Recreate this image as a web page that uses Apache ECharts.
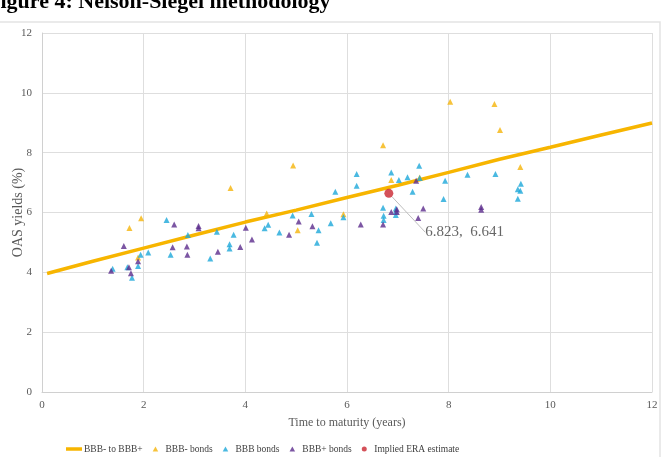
<!DOCTYPE html>
<html>
<head>
<meta charset="utf-8">
<script src="https://cdn.jsdelivr.net/npm/echarts@6/dist/echarts.min.js"></script>
<style>
html, body { margin: 0; padding: 0; background: #fff; }
#chart { width: 670px; height: 457px; }
</style>
</head>
<body>
<div id="chart"></div>
<script>
var xTicks = [0, 2, 4, 6, 8, 10, 12];
var yTicks = [0, 2, 4, 6, 8, 10, 12];

// fitted curve BBB- to BBB+
var curve = [[0.1,3.96],[1,4.37],[2,4.81],[3,5.25],[4,5.68],[5,6.08],[6,6.50],[7,6.91],[8,7.34],[9,7.78],[10,8.18],[11,8.59],[12,8.99]];

// BBB- bonds
var bbbMinus = [[1.72,5.48],[1.95,5.81],[1.89,4.50],[3.71,6.82],[4.42,5.97],[4.94,7.57],[5.03,5.41],[5.93,5.94],[6.71,8.25],[6.87,7.09],[7.43,7.17],[8.03,9.70],[8.90,9.63],[9.01,8.76],[9.41,7.52]];

// BBB bonds
var bbb = [[1.39,4.12],[1.68,4.17],[1.77,3.82],[1.89,4.21],[1.94,4.59],[2.09,4.66],[2.45,5.75],[2.53,4.59],[2.87,5.25],[3.31,4.46],[3.44,5.36],[3.69,4.94],[3.69,4.80],[3.77,5.26],[4.38,5.47],[4.45,5.59],[4.67,5.33],[4.93,5.90],[5.30,5.95],[5.44,5.41],[5.41,4.99],[5.68,5.64],[5.93,5.84],[5.77,6.69],[6.19,7.29],[6.19,6.89],[6.87,7.34],[7.02,7.09],[7.19,7.18],[7.42,7.56],[7.29,6.69],[7.93,7.06],[7.90,6.45],[8.37,7.26],[8.92,7.29],[6.71,6.16],[6.72,5.89],[6.72,5.75],[6.96,6.13],[6.96,6.03],[6.96,5.92],[9.36,6.46],[9.36,6.78],[9.41,6.73],[9.42,6.96],[7.43,7.15]];

// BBB+ bonds
var bbbPlus = [[1.36,4.05],[1.61,4.88],[1.71,4.17],[1.75,3.97],[1.89,4.37],[2.60,5.60],[2.57,4.84],[2.85,4.86],[2.86,4.59],[3.08,5.55],[3.08,5.47],[3.46,4.69],[3.90,4.85],[4.01,5.49],[4.13,5.10],[4.86,5.26],[5.05,5.70],[5.32,5.54],[6.27,5.60],[6.71,5.60],[6.87,6.02],[6.98,6.11],[6.98,6.02],[7.40,5.82],[7.50,6.13],[7.36,7.06],[8.64,6.18],[8.64,6.09]];

// implied ERA estimate
var estimate = [[6.823,6.641]];

var serif = 'Liberation Serif';
var gridColor = '#dedede';
var triIcon = 'path://M0,9L5,0L10,9Z';

var myChart = echarts.init(document.getElementById('chart'));
var option = {
    animation: false,
    textStyle: {fontFamily: serif},
    graphic: [
        {type: 'text', left: -13, top: -9, style: {text: 'Figure 4: Nelson-Siegel methodology', font: 'bold 22px "Liberation Serif"', fill: '#000'}},
        {type: 'rect', shape: {x: -2, y: 22, width: 662, height: 460}, style: {fill: 'none', stroke: '#e3e3e3', lineWidth: 1.5}, silent: true}
    ],
    grid: {left: 42, right: 18, top: 33, bottom: 65, outerBoundsMode: 'none', containLabel: false},
    xAxis: {
        type: 'value', min: xTicks[0], max: xTicks[xTicks.length - 1], interval: 2,
        name: 'Time to maturity (years)', nameLocation: 'middle', nameGap: 25, nameMoveOverlap: false,
        nameTextStyle: {color: '#595959', fontSize: 12, fontFamily: serif},
        axisLine: {show: true, lineStyle: {color: '#d0d0d0'}},
        axisTick: {show: false},
        axisLabel: {color: '#595959', fontSize: 11, fontFamily: serif, margin: 8},
        splitLine: {show: true, lineStyle: {color: gridColor}}
    },
    yAxis: {
        type: 'value', min: yTicks[0], max: yTicks[yTicks.length - 1], interval: 2,
        name: 'OAS yields (%)', nameLocation: 'middle', nameGap: 17, nameMoveOverlap: false,
        nameTextStyle: {color: '#595959', fontSize: 14, fontFamily: serif},
        axisLine: {show: true, lineStyle: {color: '#d0d0d0'}},
        axisTick: {show: false},
        axisLabel: {color: '#595959', fontSize: 11, fontFamily: serif, margin: 10},
        splitLine: {show: true, lineStyle: {color: gridColor}}
    },
    legend: {
        left: 61, top: 439, itemGap: 10, itemWidth: 16, itemHeight: 5,
        textStyle: {color: '#404040', fontSize: 9.5, fontFamily: serif, padding: [0, 0, 0, -3]},
        data: [
            {name: 'BBB- to BBB+', icon: 'path://M0,0L16,0L16,3.5L0,3.5Z'},
            {name: 'BBB- bonds', icon: triIcon},
            {name: 'BBB bonds', icon: triIcon},
            {name: 'BBB+ bonds', icon: triIcon},
            {name: 'Implied ERA estimate', icon: 'circle'}
        ]
    },
    series: [
        {
            name: 'BBB- to BBB+', type: 'line', data: curve, showSymbol: false, symbol: 'none',
            lineStyle: {color: '#F7B500', width: 3.5}, itemStyle: {color: '#F7B500'}, z: 2
        },
        {
            name: 'BBB- bonds', type: 'scatter', data: bbbMinus, symbol: 'triangle', symbolSize: 6,
            itemStyle: {color: '#F5B40A'}, z: 3
        },
        {
            name: 'BBB bonds', type: 'scatter', data: bbb, symbol: 'triangle', symbolSize: 6,
            itemStyle: {color: '#1DA8DA'}, z: 3
        },
        {
            name: 'BBB+ bonds', type: 'scatter', data: bbbPlus, symbol: 'triangle', symbolSize: 6,
            itemStyle: {color: '#5B2C8C'}, z: 3
        },
        {
            name: 'Implied ERA estimate', type: 'scatter', data: estimate, symbol: 'circle', symbolSize: 9,
            itemStyle: {color: '#C9252F'}, z: 4,
            label: {
                show: true, position: 'right', distance: 4,
                formatter: function (p) { return p.value[0] + ',  ' + p.value[1]; },
                color: '#404040', fontSize: 15, fontFamily: serif
            },
            labelLayout: {dx: 28, dy: 39},
            labelLine: {show: true, lineStyle: {color: '#bdbdbd', width: 1}}
        }
    ]
};
myChart.setOption(option);
</script>
</body>
</html>
